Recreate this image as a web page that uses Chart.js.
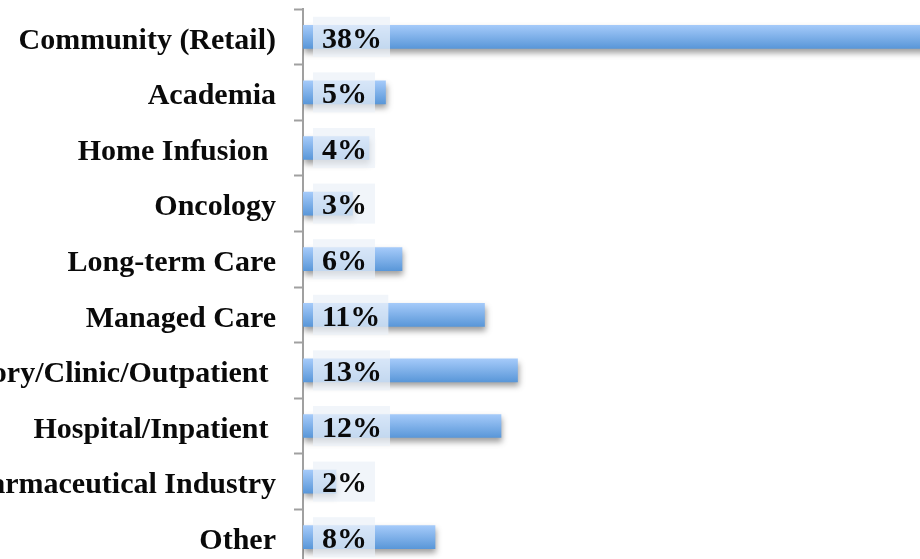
<!DOCTYPE html>
<html>
<head>
<meta charset="utf-8">
<script src="https://cdn.jsdelivr.net/npm/chart.js@4.4.0/dist/chart.umd.min.js"></script>
<style>
   html, body { margin: 0; padding: 0; overflow: hidden; background: #fff; }
   canvas { display: block; }
</style>
</head>
<body>
<canvas id="chart" width="963" height="565"></canvas>
<script>
const categories = [
   "Community (Retail)",
   "Academia",
   "Home Infusion ",
   "Oncology",
   "Long-term Care",
   "Managed Care",
   "Ambulatory/Clinic/Outpatient ",
   "Hospital/Inpatient ",
   "Pharmaceutical Industry",
   "Other",
];
const shares = [38, 5, 4, 3, 6, 11, 13, 12, 2, 8];

const FONT = "'Liberation Serif', 'DejaVu Serif', serif";

// soft shadow under bars
const barShadow = {
   id: "barShadow",
   beforeDatasetsDraw(chart) {
      const ctx = chart.ctx;
      ctx.save();
      ctx.shadowColor = "rgba(0, 0, 0, 0.38)";
      ctx.shadowBlur = 6;
      ctx.shadowOffsetY = 4;
      ctx.shadowOffsetX = 1;
   },
   afterDatasetsDraw(chart) {
      chart.ctx.restore();
   },
};

// value labels with a pale box behind them
const valueLabels = {
   id: "valueLabels",
   afterDatasetsDraw(chart) {
      const ctx = chart.ctx;
      const meta = chart.getDatasetMeta(0);
      const x0 = chart.scales.x.getPixelForValue(0);
      ctx.save();
      ctx.font = "bold 30px " + FONT;
      ctx.textBaseline = "middle";
      meta.data.forEach((bar, i) => {
         const text = shares[i] + "%";
         const w = ctx.measureText(text).width;
         ctx.fillStyle = "rgba(236, 241, 248, 0.72)";
         ctx.fillRect(x0 + 10, bar.y - 20, w + 17, 40);
         ctx.fillStyle = "#0a0a0a";
         ctx.fillText(text, x0 + 19, bar.y + 3);
      });
      ctx.restore();
   },
};

const ctx = document.getElementById("chart").getContext("2d");

new Chart(ctx, {
   type: "bar",
   data: {
      labels: categories,
      datasets: [
         {
            data: shares,
            barThickness: 23,
            borderWidth: 0,
            backgroundColor: (c) => {
               const chart = c.chart;
               const y = chart.scales.y;
               if (!y || !chart.chartArea) return "#7fb0ec";
               const yc = y.getPixelForValue(c.dataIndex);
               const g = chart.ctx.createLinearGradient(0, yc - 12, 0, yc + 12);
               g.addColorStop(0, "#a6cbfa");
               g.addColorStop(1, "#5896d8");
               return g;
            },
         },
      ],
   },
   options: {
      indexAxis: "y",
      responsive: false,
      animation: false,
      layout: { padding: { top: 9, right: 0, bottom: 0, left: 0 } },
      plugins: {
         legend: { display: false },
         tooltip: { enabled: false },
      },
      scales: {
         x: {
            display: false,
            min: 0,
            max: 40,
         },
         y: {
            afterFit: (scale) => {
               scale.width = 303;
               scale.paddingTop = 0;
               scale.paddingBottom = 0;
            },
            border: { display: true, color: "#a0a0a0", width: 2 },
            grid: {
               drawOnChartArea: false,
               drawTicks: true,
               tickLength: 9,
               tickWidth: 2,
               tickColor: "#a0a0a0",
            },
            ticks: {
               color: "#0a0a0a",
               padding: 18,
               labelOffset: 4,
               font: { family: FONT, size: 30, weight: "bold" },
            },
         },
      },
   },
   plugins: [barShadow, valueLabels],
});
</script>
</body>
</html>
